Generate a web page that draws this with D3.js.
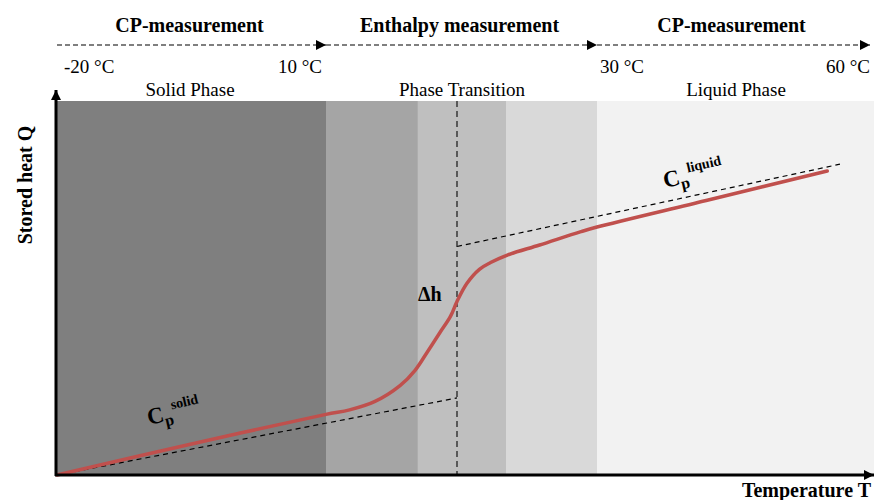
<!DOCTYPE html>
<html lang="en">
<head>
<meta charset="utf-8">
<title>Stored heat vs temperature</title>
<script src="https://d3js.org/d3.v7.min.js"></script>
<style>
body { margin: 0; background: #fff; }
svg text { font-family: "Liberation Serif", "Times New Roman", "DejaVu Serif", serif; fill: #000; }
.bold { font-weight: bold; }
</style>
</head>
<body>
<div id="chart"></div>
<script>
// temperature breakpoints (deg C) used by the piecewise x scale
var tempStops = [-20, 10, 20, 30, 60];

// phase bands: start T, end T, colour
var bandStart = [-20, 10, 17, 23.5, 30];
var bandEnd   = [10, 17, 23.5, 30, 60];
var bandFill  = ["#7f7f7f", "#a5a5a5", "#bfbfbf", "#d9d9d9", "#f2f2f2"];

// measured stored heat curve (arbitrary units)
var curveT = [-20, -5, 10, 11.8, 13.7, 15.65, 16.8, 17.7, 18.7, 19.5, 20, 20.7, 21.6, 22.4, 23.6, 25.9, 28.8, 30, 42, 55.3];
var curveQ = [0, 8.3, 16.2, 17.4, 19.6, 23.9, 28.0, 32.7, 38.1, 42.4, 46.4, 51.2, 55.0, 56.8, 58.8, 61.5, 65.0, 66.3, 73.4, 81.3];

// tangent lines (specific heat)
var solidT = [-20, 20], solidQ = [0, 20.6];
var liquidT = [20, 56.7], liquidQ = [61.1, 83.1];

// header texts
var measureLabels = ["CP-measurement", "Enthalpy measurement", "CP-measurement"];
var tempLabels = ["-20 °C", "10 °C", "30 °C", "60 °C"];
var phaseLabels = ["Solid Phase", "Phase Transition", "Liquid Phase"];

var W = 874, H = 500;
var svg = d3.select("#chart").append("svg")
  .attr("width", W).attr("height", H);

var x = d3.scaleLinear().domain(tempStops).range([57, 326, 457, 597, 870]);
var y = d3.scaleLinear().domain([0, 100]).range([475, 101]);

var defs = svg.append("defs");
defs.append("marker").attr("id", "tri")
  .attr("viewBox", "0 0 10 10").attr("refX", 10).attr("refY", 5)
  .attr("markerWidth", 10).attr("markerHeight", 10)
  .attr("markerUnits", "userSpaceOnUse").attr("orient", "auto")
  .append("path").attr("d", "M0,0 L10,5 L0,10 Z").attr("fill", "#000");

// bands
svg.append("g").selectAll("rect")
  .data(bandStart)
  .enter().append("rect")
  .attr("x", function(d) { return x(d); })
  .attr("y", y(100))
  .attr("width", function(d, i) { return x(bandEnd[i]) - x(d) + 4; })
  .attr("height", y(0) - y(100))
  .attr("fill", function(d, i) { return bandFill[i]; });

// dashed helpers
var line = d3.line().x(function(d) { return x(d[0]); }).y(function(d) { return y(d[1]); });
svg.append("path")
  .attr("d", line(d3.zip(solidT, solidQ)))
  .attr("fill", "none").attr("stroke", "#000").attr("stroke-width", 1.2)
  .attr("stroke-dasharray", "5,4");
svg.append("path")
  .attr("d", line(d3.zip(liquidT, liquidQ)))
  .attr("fill", "none").attr("stroke", "#000").attr("stroke-width", 1.2)
  .attr("stroke-dasharray", "5,4");
svg.append("line")
  .attr("x1", x(20)).attr("x2", x(20))
  .attr("y1", y(100)).attr("y2", y(0))
  .attr("stroke", "#222").attr("stroke-width", 1.3)
  .attr("stroke-dasharray", "6,4");

// measured curve
svg.append("path")
  .attr("d", d3.line()
    .x(function(d) { return x(d[0]); })
    .y(function(d) { return y(d[1]); })
    .curve(d3.curveCatmullRom.alpha(0.5))(d3.zip(curveT, curveQ)))
  .attr("fill", "none")
  .attr("stroke", "#c0504d")
  .attr("stroke-width", 3.5)
  .attr("stroke-linecap", "round");

// axes
svg.append("line")
  .attr("x1", 56).attr("y1", 476).attr("x2", 56).attr("y2", 90)
  .attr("stroke", "#000").attr("stroke-width", 3)
  .attr("marker-end", "url(#tri)");
svg.append("line")
  .attr("x1", 55).attr("y1", 475).attr("x2", 874).attr("y2", 475)
  .attr("stroke", "#000").attr("stroke-width", 3)
  .attr("marker-end", "url(#tri)");

svg.append("text").attr("class", "bold")
  .attr("transform", "translate(32,185) rotate(-90)")
  .attr("text-anchor", "middle")
  .style("font-size", "20px")
  .text("Stored heat Q");
svg.append("text").attr("class", "bold")
  .attr("x", 871).attr("y", 497)
  .attr("text-anchor", "end")
  .style("font-size", "20px")
  .text("Temperature T");

// header arrows
var seg = [[-20, 10], [10, 30], [30, 60]];
svg.append("g").selectAll("line")
  .data(seg)
  .enter().append("line")
  .attr("x1", function(d) { return x(d[0]); })
  .attr("x2", function(d) { return x(d[1]); })
  .attr("y1", 45).attr("y2", 45)
  .attr("stroke", "#000").attr("stroke-width", 1.2)
  .attr("stroke-dasharray", "5,3")
  .attr("marker-end", "url(#tri)");

svg.append("g").selectAll("text")
  .data(measureLabels)
  .enter().append("text").attr("class", "bold")
  .attr("x", function(d, i) { return (x(seg[i][0]) + x(seg[i][1])) / 2 - 2; })
  .attr("y", 32)
  .attr("text-anchor", "middle")
  .style("font-size", "20px")
  .text(function(d) { return d; });

var tempPos = [[x(-20) + 7, "start"], [x(10) - 4, "end"], [x(30) + 3, "start"], [x(60), "end"]];
svg.append("g").selectAll("text")
  .data(tempLabels)
  .enter().append("text")
  .attr("x", function(d, i) { return tempPos[i][0]; })
  .attr("y", 73)
  .attr("text-anchor", function(d, i) { return tempPos[i][1]; })
  .style("font-size", "19px")
  .text(function(d) { return d; });

var phaseX = [190, 462, 736];
svg.append("g").selectAll("text")
  .data(phaseLabels)
  .enter().append("text")
  .attr("x", function(d, i) { return phaseX[i]; })
  .attr("y", 96)
  .attr("text-anchor", "middle")
  .style("font-size", "19px")
  .text(function(d) { return d; });

// delta h
svg.append("text").attr("class", "bold")
  .attr("x", 418).attr("y", 301)
  .style("font-size", "20px")
  .text("Δh");

// Cp labels
function cpLabel(tx, ty, sup) {
  var t = svg.append("text").attr("class", "bold")
    .attr("transform", "translate(" + tx + "," + ty + ") rotate(-13)");
  t.append("tspan").style("font-size", "23px").text("C");
  t.append("tspan").style("font-size", "16px").attr("dy", 5).text("p");
  t.append("tspan").style("font-size", "14px").attr("dy", -15).text(sup);
}
cpLabel(149, 425, "solid");
cpLabel(665, 188, "liquid");
</script>
</body>
</html>
